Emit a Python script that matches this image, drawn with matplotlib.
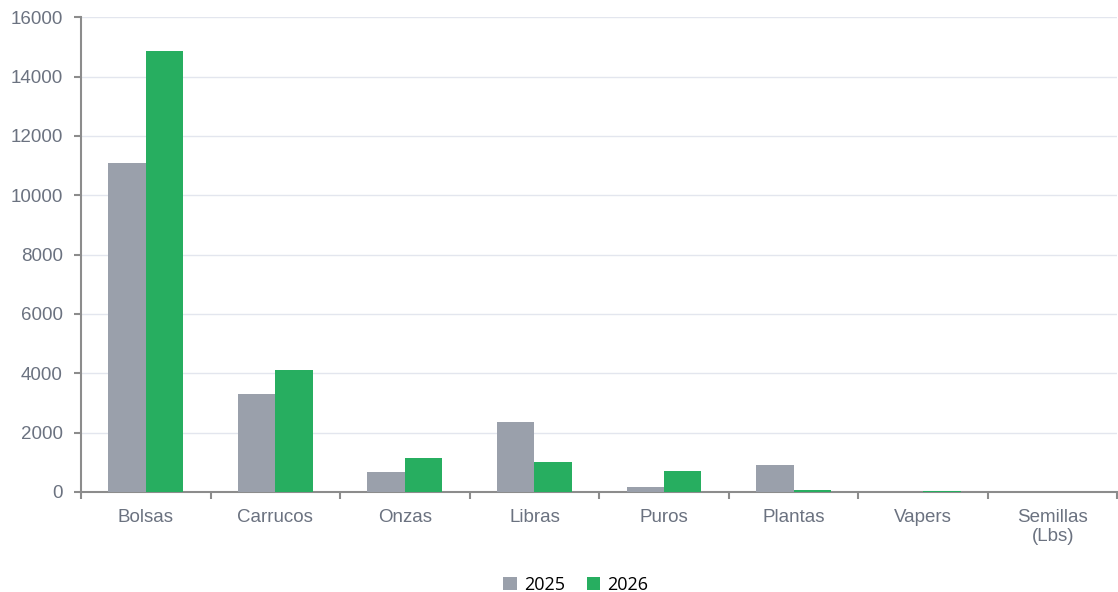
import matplotlib

matplotlib.use("Agg")
import matplotlib.pyplot as plt
import numpy as np

categories = ["Bolsas", "Carrucos", "Onzas", "Libras", "Puros", "Plantas", "Vapers", "Semillas\n(Lbs)"]
series_names = ["2025", "2026"]
values_2025 = [11100, 3300, 680, 2350, 180, 920, 15, 5]
values_2026 = [14850, 4120, 1150, 1000, 720, 60, 25, 5]
y_ticks = [0, 2000, 4000, 6000, 8000, 10000, 12000, 14000, 16000]

GRAY = "#9aa0ab"
GREEN = "#27ae60"
AXIS = "#8c8c8c"
LABEL = "#6b7280"

plt.rcParams["font.family"] = ["Liberation Sans", "DejaVu Sans"]

fig = plt.figure(figsize=(11.18, 5.92), dpi=100)
ax = fig.add_axes([0.0725, 0.169, 0.927, 0.802])

x = np.arange(len(categories))
w = 0.289
ax.bar(x - w / 2, values_2025, w, color=GRAY, label=series_names[0], zorder=3)
ax.bar(x + w / 2, values_2026, w, color=GREEN, label=series_names[1], zorder=3)

ax.set_xlim(-0.5, len(categories) - 0.5)
ax.set_ylim(0, 16000)
ax.set_yticks(y_ticks)
ax.yaxis.grid(True, color="#e3e6ee", lw=1, zorder=0)

# category boundaries as ticks, labels at centres
ax.set_xticks(np.arange(len(categories) + 1) - 0.5)
ax.set_xticklabels([])
ax.set_xticks(x, minor=True)
ax.set_xticklabels(categories, minor=True)
ax.tick_params(axis="x", which="major", length=5, width=1.5, color=AXIS, direction="out")
ax.tick_params(axis="x", which="minor", length=0, pad=12, labelsize=13.5, labelcolor=LABEL)
ax.tick_params(axis="y", length=5, width=1.5, color=AXIS, labelsize=13.5, labelcolor=LABEL, pad=8)

for s in ["top", "right"]:
    ax.spines[s].set_visible(False)
for s in ["left", "bottom"]:
    ax.spines[s].set_color(AXIS)
    ax.spines[s].set_linewidth(1.5)

fig.legend(loc="lower center", bbox_to_anchor=(0.515, -0.03), ncol=2, frameon=False,
           handlelength=0.75, handleheight=0.75, handletextpad=0.4,
           columnspacing=1.2, prop={"family": "Open Sans", "size": 13})

fig.savefig("out.png", dpi=100, facecolor="white")
